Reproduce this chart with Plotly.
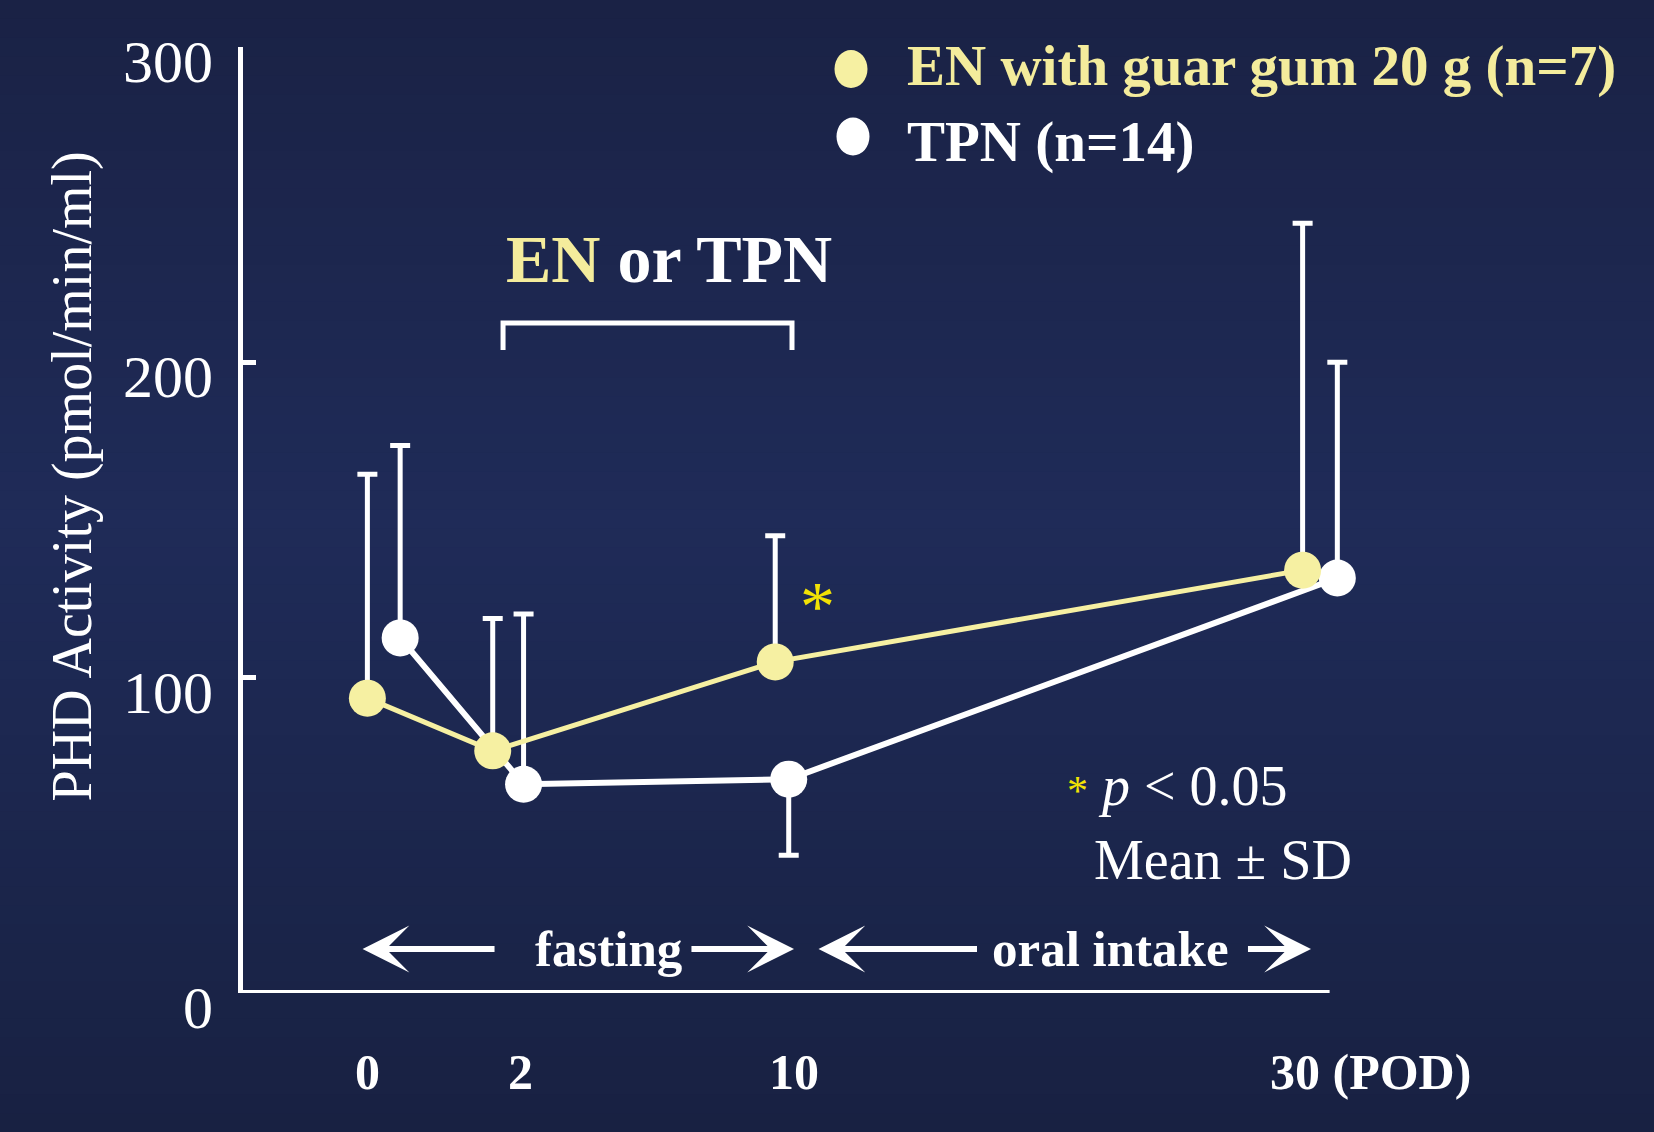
import plotly.graph_objects as go

# ---------------- data ----------------
days = [0, 2, 10, 30]
en_mean = [93.5, 76.8, 105.0, 134.1]
en_sd = [71.0, 42.0, 40.0, 110.0]
tpn_mean = [112.6, 66.2, 67.8, 131.6]
tpn_sd = [61.0, 54.0, 24.1, 68.4]
# which side of the mean the SD bar is drawn on (+1 up, -1 down)
en_sd_side = [1, 1, 1, 1]
tpn_sd_side = [1, 1, -1, 1]

y_tick_vals = [0, 100, 200, 300]
x_tick_text = ["0", "2", "10", "30 (POD)"]

en_name = "EN with guar gum 20 g (n=7)"
tpn_name = "TPN (n=14)"

# ---------------- layout / schematic axis positions ----------------
W, H = 1654, 1132
ML, MR, MT, MB = 243, 254, 47, 139
X_RANGE = [0, 12]
Y_RANGE = [0, 300]
en_xpos = [1.29, 2.59, 5.52, 10.99]
tpn_xpos = [1.63, 2.91, 5.66, 11.35]
label_xpos = [1.29, 2.88, 5.71, 11.69]

FONT = "Liberation Serif"
EN_COL = "#f6f0a2"
EN_TEXT = "#f4ec9c"
STAR = "#f2e205"
WHITE = "#ffffff"


def py_to_paper(py):
    return (H - MB - py) / (H - MT - MB)


def px_to_paper(px):
    return (px - ML) / (W - ML - MR)


def up(vals, side):
    return [v if s > 0 else 0 for v, s in zip(vals, side)]


def down(vals, side):
    return [v if s < 0 else 0 for v, s in zip(vals, side)]


fig = go.Figure()

fig.add_trace(go.Scatter(
    x=tpn_xpos, y=tpn_mean, mode="lines+markers", name=tpn_name,
    line=dict(color=WHITE, width=6),
    marker=dict(size=37, color=WHITE),
    error_y=dict(type="data", symmetric=False,
                 array=up(tpn_sd, tpn_sd_side),
                 arrayminus=down(tpn_sd, tpn_sd_side),
                 color=WHITE, thickness=5, width=10),
    showlegend=False,
))
fig.add_trace(go.Scatter(
    x=en_xpos, y=en_mean, mode="lines+markers", name=en_name,
    line=dict(color=EN_COL, width=5),
    marker=dict(size=37, color=EN_COL),
    error_y=dict(type="data", symmetric=False,
                 array=up(en_sd, en_sd_side),
                 arrayminus=down(en_sd, en_sd_side),
                 color=WHITE, thickness=5, width=10),
    showlegend=False,
))

shapes = []
# vertical gradient background
N = 60
stops = [(0, (26, 34, 69)), (520, (31, 43, 88)), (H, (24, 33, 66))]


def col_at(py):
    for (p0, c0), (p1, c1) in zip(stops[:-1], stops[1:]):
        if p0 <= py <= p1:
            t = (py - p0) / (p1 - p0)
            return "rgb(%d,%d,%d)" % tuple(round(a + (b - a) * t) for a, b in zip(c0, c1))
    return "rgb(%d,%d,%d)" % stops[-1][1]


for i in range(N):
    y_top = H * i / N
    y_bot = H * (i + 1) / N + 1
    shapes.append(dict(type="rect", xref="paper", yref="paper", layer="below",
                       x0=px_to_paper(0), x1=px_to_paper(W),
                       y0=py_to_paper(y_bot), y1=py_to_paper(y_top),
                       fillcolor=col_at((y_top + y_bot) / 2), line=dict(width=0)))

# x-axis baseline
shapes.append(dict(type="line", xref="x", yref="y", x0=0, x1=11.27, y0=0, y1=0,
                   line=dict(color=WHITE, width=6)))
# bracket over the EN/TPN period
shapes.append(dict(type="path", xref="x", yref="y",
                   path="M 2.697,203.9 L 2.697,212.5 L 5.694,212.5 L 5.694,203.9",
                   line=dict(color=WHITE, width=5)))
# legend markers
for (lx, ly, c) in [(851, 69, EN_COL), (853, 136.5, WHITE)]:
    shapes.append(dict(type="circle", xref="paper", yref="paper",
                       xsizemode="pixel", ysizemode="pixel",
                       xanchor=px_to_paper(lx), yanchor=py_to_paper(ly),
                       x0=-16.5, x1=16.5, y0=-19, y1=19,
                       fillcolor=c, line=dict(width=0)))

ann = []
# legend texts
ann.append(dict(xref="paper", yref="paper", x=px_to_paper(905), y=py_to_paper(66),
                xanchor="left", yanchor="middle", showarrow=False,
                text="<b>%s</b>" % en_name,
                font=dict(family=FONT, size=57, color=EN_TEXT)))
ann.append(dict(xref="paper", yref="paper", x=px_to_paper(905), y=py_to_paper(142),
                xanchor="left", yanchor="middle", showarrow=False,
                text="<b>%s</b>" % tpn_name,
                font=dict(family=FONT, size=57, color=WHITE)))
# y-axis title
ann.append(dict(xref="paper", yref="paper", x=px_to_paper(71.5), y=py_to_paper(477),
                xanchor="center", yanchor="middle", showarrow=False, textangle=-90,
                text="PHD Activity (pmol/min/ml)",
                font=dict(family=FONT, size=56, color=WHITE)))
# x tick labels
for xv, t in zip(label_xpos, x_tick_text):
    ann.append(dict(xref="x", yref="paper", x=xv, y=py_to_paper(1072),
                    xanchor="center", yanchor="middle", showarrow=False,
                    text="<b>%s</b>" % t,
                    font=dict(family=FONT, size=50, color=WHITE)))
# "EN or TPN"
ann.append(dict(xref="x", yref="y", x=2.707, y=232.8, xanchor="left", yanchor="middle",
                showarrow=False,
                text="<b><span style='color:%s'>EN</span> or TPN</b>" % EN_TEXT,
                font=dict(family=FONT, size=68, color=WHITE)))
# significance star
ann.append(dict(xref="x", yref="y", x=5.963, y=122.5, xanchor="center", yanchor="middle",
                showarrow=False, text="*",
                font=dict(family=FONT, size=70, color=STAR)))
# notes
ann.append(dict(xref="x", yref="y", x=8.525, y=65.7, xanchor="left", yanchor="middle",
                showarrow=False,
                text="<span style='color:%s;font-size:42px'>*</span> <i>p</i> &lt; 0.05" % STAR,
                font=dict(family=FONT, size=56, color=WHITE)))
ann.append(dict(xref="x", yref="y", x=8.805, y=42.2, xanchor="left", yanchor="middle",
                showarrow=False, text="Mean ± SD",
                font=dict(family=FONT, size=56, color=WHITE)))
# period labels
ARROW_Y = 13.95
ann.append(dict(xref="x", yref="y", x=3.786, y=ARROW_Y, showarrow=False,
                text="<b>fasting</b>", font=dict(family=FONT, size=51, color=WHITE)))
ann.append(dict(xref="x", yref="y", x=8.997, y=ARROW_Y, showarrow=False,
                text="<b>oral intake</b>", font=dict(family=FONT, size=51, color=WHITE)))
for tip, tail in [(1.240, 2.614), (5.715, 4.646), (5.969, 7.618), (11.077, 10.418)]:
    ann.append(dict(xref="x", yref="y", x=tip, y=ARROW_Y, axref="x", ayref="y",
                    ax=tail, ay=ARROW_Y, text="", showarrow=True,
                    arrowhead=3, arrowsize=1.3, arrowwidth=6, arrowcolor=WHITE,
                    standoff=0, borderpad=0))

fig.update_layout(
    width=W, height=H,
    margin=dict(l=ML, r=MR, t=MT, b=MB, autoexpand=False),
    paper_bgcolor="rgb(30,41,84)",
    plot_bgcolor="rgba(0,0,0,0)",
    shapes=shapes,
    annotations=ann,
    showlegend=False,
    xaxis=dict(range=X_RANGE, showline=False, showgrid=False, zeroline=False,
               showticklabels=False, ticks="", automargin=False, fixedrange=True),
    yaxis=dict(range=Y_RANGE, showline=True, linecolor=WHITE, linewidth=5,
               showgrid=False, zeroline=False, ticks="inside", ticklen=13,
               tickwidth=5, tickcolor=WHITE, tickvals=y_tick_vals,
               ticktext=[str(v) for v in y_tick_vals],
               ticklabelshift=14, ticklabelstandoff=13,
               tickfont=dict(family=FONT, size=60, color=WHITE),
               automargin=False, fixedrange=True),
)

fig.write_html("out.html")
